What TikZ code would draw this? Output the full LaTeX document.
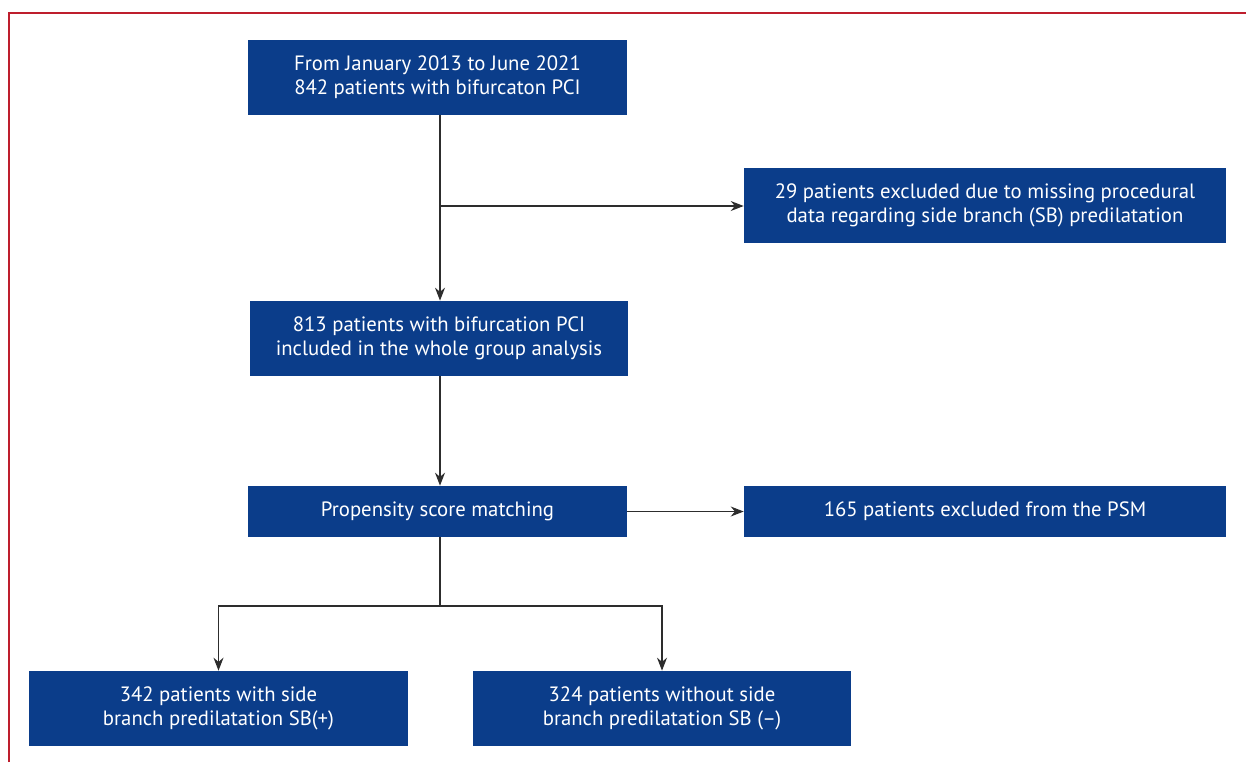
\documentclass[tikz,border=0pt]{standalone}
\usepackage{fontspec}
\setmainfont{PT Sans}
\usetikzlibrary{arrows.meta}
\definecolor{boxblue}{RGB}{11,61,138}
\definecolor{framered}{RGB}{190,30,45}
\definecolor{lineg}{RGB}{45,45,45}

\begin{document}
\begin{tikzpicture}[
  x=0.02cm, y=-0.02cm,
  flow/.style={fill=boxblue, text=white, minimum width=7.58cm, minimum height=1.5cm, align=center, inner sep=2pt, font=\fontsize{11.8}{13.7}\selectfont},
  side/.style={flow, minimum width=9.64cm},
  thin/.style={minimum height=1.02cm},
  >={Stealth[length=2.6mm, width=2mm]},
  conn/.style={draw=lineg, line width=0.7pt}
]
  \useasboundingbox (0,0) rectangle (1246,762);
  \draw[framered, line width=1.1pt] (9,762) -- (9,13) -- (1246,13);

  \node[flow] (start) at (437.5,77.5) {From January 2013 to June 2021\\842 patients with bifurcaton PCI};
  \node[side] (missing) at (985,205.5) {29 patients excluded due to missing procedural\\data regarding side branch (SB) predilatation};
  \node[flow] (whole) at (439,338.5) {813 patients with bifurcation PCI\\included in the whole group analysis};
  \node[flow, thin] (psm) at (437.5,511.5) {Propensity score matching};
  \node[side, thin] (nopsm) at (985,511.5) {165 patients excluded from the PSM};
  \node[flow] (sbplus) at (218.5,708.5) {342 patients with side\\branch predilatation SB(+)};
  \node[flow] (sbminus) at (662,708.5) {324 patients without side\\branch predilatation SB (--)};

  \coordinate (split1) at (440,206);
  \coordinate (split2) at (440,606);

  \draw[conn, ->] (start.south -| split1) -- (whole.north -| split1);
  \draw[conn, ->] (split1) -- (split1 -| missing.west);
  \draw[conn, ->] (whole.south -| split1) -- (psm.north -| split1);
  \draw[conn, ->] (psm) -- (nopsm);
  \draw[conn] (psm.south -| split2) -- (split2);
  \draw[conn, ->] (split2) -| (sbplus);
  \draw[conn, ->] (split2) -| (sbminus);
\end{tikzpicture}
\end{document}
